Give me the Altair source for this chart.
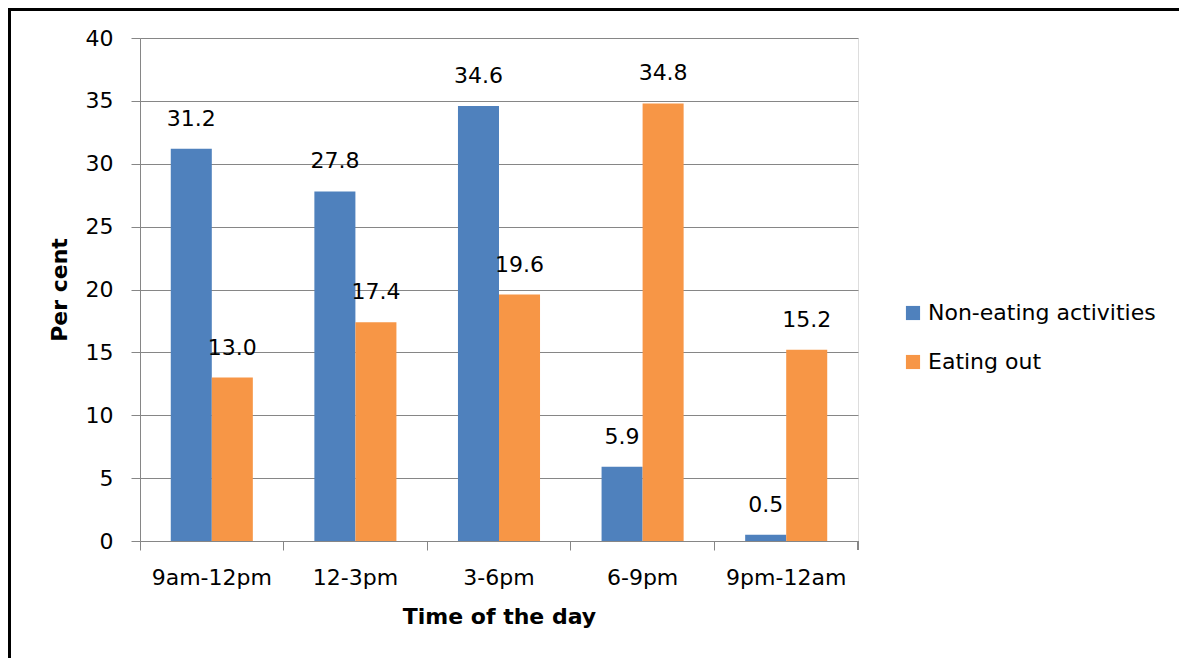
import altair as alt
import pandas as pd

categories = ["9am-12pm", "12-3pm", "3-6pm", "6-9pm", "9pm-12am"]
series = ["Non-eating activities", "Eating out"]
non_eating = [31.2, 27.8, 34.6, 5.9, 0.5]
eating_out = [13.0, 17.4, 19.6, 34.8, 15.2]
colors = ["#4F81BD", "#F79646"]

rows = []
for c, a, b in zip(categories, non_eating, eating_out):
    rows.append({"time": c, "series": series[0], "value": a})
    rows.append({"time": c, "series": series[1], "value": b})
df = pd.DataFrame(rows)

FONT = "DejaVu Sans"
FS = 22
W, H = 718, 503

x = alt.X("time:N", sort=categories, title="Time of the day",
          scale=alt.Scale(paddingInner=0, paddingOuter=0),
          axis=alt.Axis(bandPosition=0, labelAngle=0, labelFontSize=FS, labelFont=FONT,
                        labelColor="black", labelPadding=17, tickSize=9,
                        tickColor="#868686", domainColor="#868686", grid=False,
                        titleFontSize=FS, titleFont=FONT, titleFontWeight="bold",
                        titleColor="black", titlePadding=18))
xo = alt.XOffset("series:N", sort=series,
                 scale=alt.Scale(paddingInner=0, paddingOuter=0.75))
y = alt.Y("value:Q", title="Per cent",
          scale=alt.Scale(domain=[0, 40], nice=False),
          axis=alt.Axis(values=[0, 5, 10, 15, 20, 25, 30, 35, 40], labelFontSize=FS,
                        labelFont=FONT, labelColor="black", labelPadding=18, tickSize=9,
                        tickColor="#868686", domainColor="#868686", gridColor="#868686",
                        titleFontSize=FS, titleFont=FONT, titleFontWeight="bold",
                        titleColor="black", titlePadding=14))

bars = alt.Chart(df).mark_bar().encode(
    x=x, xOffset=xo, y=y,
    color=alt.Color("series:N", sort=series, title=None,
                    scale=alt.Scale(domain=series, range=colors),
                    legend=alt.Legend(orient="none", legendX=762, legendY=264,
                                      symbolType="square", symbolSize=200,
                                      symbolStrokeWidth=0, labelFontSize=FS,
                                      labelFont=FONT, labelColor="black", labelLimit=0,
                                      rowPadding=27, labelOffset=4)),
)

labels = alt.Chart(df).mark_text(fontSize=FS, font=FONT, color="black",
                                 baseline="middle", dy=-30).encode(
    x=alt.X("time:N", sort=categories), xOffset=alt.XOffset("series:N", sort=series),
    y="value:Q", text=alt.Text("value:Q", format=".1f"),
)

end_tick = alt.Chart(df).mark_rule(color="#868686").encode(
    x=alt.value(W), y=alt.value(H), y2=alt.value(H + 9))

frame = alt.Chart(df).mark_rect(fill=None, stroke="black", strokeWidth=3).encode(
    x=alt.value(-131), x2=alt.value(1100), y=alt.value(-29), y2=alt.value(700))

chart = alt.layer(bars, labels, end_tick, frame).properties(
    width=W, height=H,
    autosize=alt.AutoSizeParams(type="none"),
    padding={"left": 132, "top": 30, "right": 321, "bottom": 117},
).configure_view(stroke=None).configure(background="white")

chart.save("out.html", embed_options={"renderer": "svg", "actions": False})
